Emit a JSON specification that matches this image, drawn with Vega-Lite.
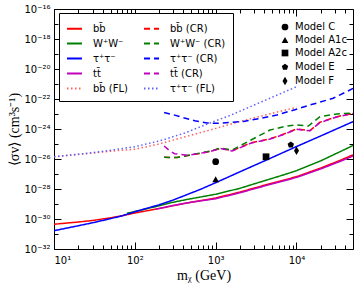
{
  "$schema": "https://vega.github.io/schema/vega-lite/v6.json",
  "autosize": {"type": "none"},
  "width": 299,
  "height": 240,
  "padding": {"left": 54, "top": 9, "right": 4, "bottom": 42},
  "background": "white",
  "datasets": {
    "lines": [
      {"series": "bb\u0304", "m": 10, "sv": 4.47e-31},
      {"series": "bb\u0304", "m": 20, "sv": 6.31e-31},
      {"series": "bb\u0304", "m": 30, "sv": 7.94e-31},
      {"series": "bb\u0304", "m": 50, "sv": 1.2e-30},
      {"series": "bb\u0304", "m": 70, "sv": 1.66e-30},
      {"series": "bb\u0304", "m": 100, "sv": 2.51e-30},
      {"series": "bb\u0304", "m": 200, "sv": 5.01e-30},
      {"series": "bb\u0304", "m": 400, "sv": 1.07e-29},
      {"series": "bb\u0304", "m": 700, "sv": 1.78e-29},
      {"series": "bb\u0304", "m": 1000, "sv": 2.51e-29},
      {"series": "bb\u0304", "m": 2000, "sv": 6.31e-29},
      {"series": "bb\u0304", "m": 4000, "sv": 1.78e-28},
      {"series": "bb\u0304", "m": 7000, "sv": 3.98e-28},
      {"series": "bb\u0304", "m": 10000, "sv": 6.61e-28},
      {"series": "bb\u0304", "m": 20000, "sv": 2.51e-27},
      {"series": "bb\u0304", "m": 35000, "sv": 8.32e-27},
      {"series": "bb\u0304", "m": 50000, "sv": 1.9e-26},

      {"series": "W\u207aW\u207b", "m": 80, "sv": 2.4e-30},
      {"series": "W\u207aW\u207b", "m": 100, "sv": 3.16e-30},
      {"series": "W\u207aW\u207b", "m": 200, "sv": 7.59e-30},
      {"series": "W\u207aW\u207b", "m": 270, "sv": 1.175e-29},
      {"series": "W\u207aW\u207b", "m": 440, "sv": 2.0e-29},
      {"series": "W\u207aW\u207b", "m": 1000, "sv": 4.47e-29},
      {"series": "W\u207aW\u207b", "m": 2000, "sv": 1.12e-28},
      {"series": "W\u207aW\u207b", "m": 4000, "sv": 3.55e-28},
      {"series": "W\u207aW\u207b", "m": 7000, "sv": 8.91e-28},
      {"series": "W\u207aW\u207b", "m": 10000, "sv": 1.66e-27},
      {"series": "W\u207aW\u207b", "m": 20000, "sv": 7.59e-27},
      {"series": "W\u207aW\u207b", "m": 35000, "sv": 3.16e-26},
      {"series": "W\u207aW\u207b", "m": 50000, "sv": 7.94e-26},

      {"series": "\u03c4\u207a\u03c4\u207b", "m": 10, "sv": 1.66e-31},
      {"series": "\u03c4\u207a\u03c4\u207b", "m": 20, "sv": 3.55e-31},
      {"series": "\u03c4\u207a\u03c4\u207b", "m": 30, "sv": 5.62e-31},
      {"series": "\u03c4\u207a\u03c4\u207b", "m": 50, "sv": 1.05e-30},
      {"series": "\u03c4\u207a\u03c4\u207b", "m": 70, "sv": 1.66e-30},
      {"series": "\u03c4\u207a\u03c4\u207b", "m": 100, "sv": 3.02e-30},
      {"series": "\u03c4\u207a\u03c4\u207b", "m": 200, "sv": 8.91e-30},
      {"series": "\u03c4\u207a\u03c4\u207b", "m": 300, "sv": 1.86e-29},
      {"series": "\u03c4\u207a\u03c4\u207b", "m": 650, "sv": 9.55e-29},
      {"series": "\u03c4\u207a\u03c4\u207b", "m": 1000, "sv": 2.63e-28},
      {"series": "\u03c4\u207a\u03c4\u207b", "m": 2000, "sv": 1.41e-27},
      {"series": "\u03c4\u207a\u03c4\u207b", "m": 4000, "sv": 7.41e-27},
      {"series": "\u03c4\u207a\u03c4\u207b", "m": 10000, "sv": 6.76e-26},
      {"series": "\u03c4\u207a\u03c4\u207b", "m": 20000, "sv": 3.47e-25},
      {"series": "\u03c4\u207a\u03c4\u207b", "m": 50000, "sv": 3.09e-24},

      {"series": "tt\u0304", "m": 180, "sv": 4.47e-30},
      {"series": "tt\u0304", "m": 300, "sv": 7.94e-30},
      {"series": "tt\u0304", "m": 500, "sv": 1.32e-29},
      {"series": "tt\u0304", "m": 1000, "sv": 2.24e-29},
      {"series": "tt\u0304", "m": 2000, "sv": 5.62e-29},
      {"series": "tt\u0304", "m": 4000, "sv": 1.585e-28},
      {"series": "tt\u0304", "m": 7000, "sv": 3.55e-28},
      {"series": "tt\u0304", "m": 10000, "sv": 5.89e-28},
      {"series": "tt\u0304", "m": 20000, "sv": 2.19e-27},
      {"series": "tt\u0304", "m": 35000, "sv": 7.08e-27},
      {"series": "tt\u0304", "m": 50000, "sv": 1.585e-26},

      {"series": "bb\u0304 (FL)", "m": 10, "sv": 1.41e-26},
      {"series": "bb\u0304 (FL)", "m": 20, "sv": 2.0e-26},
      {"series": "bb\u0304 (FL)", "m": 30, "sv": 2.51e-26},
      {"series": "bb\u0304 (FL)", "m": 50, "sv": 3.31e-26},
      {"series": "bb\u0304 (FL)", "m": 100, "sv": 4.47e-26},
      {"series": "bb\u0304 (FL)", "m": 200, "sv": 1.0e-25},
      {"series": "bb\u0304 (FL)", "m": 400, "sv": 2.82e-25},
      {"series": "bb\u0304 (FL)", "m": 850, "sv": 8.51e-25},
      {"series": "bb\u0304 (FL)", "m": 2000, "sv": 3.16e-24},
      {"series": "bb\u0304 (FL)", "m": 5000, "sv": 1.12e-23},
      {"series": "bb\u0304 (FL)", "m": 10000, "sv": 2.82e-23},

      {"series": "bb\u0304 (CR)", "m": 230, "sv": 1.29e-26},
      {"series": "bb\u0304 (CR)", "m": 330, "sv": 1.26e-26},
      {"series": "bb\u0304 (CR)", "m": 450, "sv": 1.7e-26},
      {"series": "bb\u0304 (CR)", "m": 644, "sv": 2.4e-26},
      {"series": "bb\u0304 (CR)", "m": 850, "sv": 3.16e-26},
      {"series": "bb\u0304 (CR)", "m": 1150, "sv": 5.13e-26},
      {"series": "bb\u0304 (CR)", "m": 1600, "sv": 3.55e-26},
      {"series": "bb\u0304 (CR)", "m": 2700, "sv": 1.175e-25},
      {"series": "bb\u0304 (CR)", "m": 4700, "sv": 2.24e-25},
      {"series": "bb\u0304 (CR)", "m": 6500, "sv": 3.98e-25},
      {"series": "bb\u0304 (CR)", "m": 10000, "sv": 1.0e-24},
      {"series": "bb\u0304 (CR)", "m": 14700, "sv": 7.94e-25},
      {"series": "bb\u0304 (CR)", "m": 19500, "sv": 2.82e-24},
      {"series": "bb\u0304 (CR)", "m": 31600, "sv": 6.61e-24},
      {"series": "bb\u0304 (CR)", "m": 50000, "sv": 1.12e-23},

      {"series": "W\u207aW\u207b (CR)", "m": 230, "sv": 1.29e-26},
      {"series": "W\u207aW\u207b (CR)", "m": 330, "sv": 1.26e-26},
      {"series": "W\u207aW\u207b (CR)", "m": 450, "sv": 1.7e-26},
      {"series": "W\u207aW\u207b (CR)", "m": 644, "sv": 2.51e-26},
      {"series": "W\u207aW\u207b (CR)", "m": 850, "sv": 3.39e-26},
      {"series": "W\u207aW\u207b (CR)", "m": 1150, "sv": 5.37e-26},
      {"series": "W\u207aW\u207b (CR)", "m": 1600, "sv": 3.98e-26},
      {"series": "W\u207aW\u207b (CR)", "m": 2700, "sv": 1.78e-25},
      {"series": "W\u207aW\u207b (CR)", "m": 4700, "sv": 8.51e-25},
      {"series": "W\u207aW\u207b (CR)", "m": 7600, "sv": 1.585e-24},
      {"series": "W\u207aW\u207b (CR)", "m": 10000, "sv": 1.86e-24},
      {"series": "W\u207aW\u207b (CR)", "m": 14000, "sv": 1.585e-24},
      {"series": "W\u207aW\u207b (CR)", "m": 19500, "sv": 6.61e-24},
      {"series": "W\u207aW\u207b (CR)", "m": 31600, "sv": 1.0e-23},
      {"series": "W\u207aW\u207b (CR)", "m": 50000, "sv": 1.175e-23},

      {"series": "\u03c4\u207a\u03c4\u207b (CR)", "m": 230, "sv": 1.26e-23},
      {"series": "\u03c4\u207a\u03c4\u207b (CR)", "m": 300, "sv": 8.91e-24},
      {"series": "\u03c4\u207a\u03c4\u207b (CR)", "m": 400, "sv": 5.62e-24},
      {"series": "\u03c4\u207a\u03c4\u207b (CR)", "m": 550, "sv": 3.55e-24},
      {"series": "\u03c4\u207a\u03c4\u207b (CR)", "m": 780, "sv": 2.51e-24},
      {"series": "\u03c4\u207a\u03c4\u207b (CR)", "m": 1100, "sv": 2.4e-24},
      {"series": "\u03c4\u207a\u03c4\u207b (CR)", "m": 2200, "sv": 3.16e-24},
      {"series": "\u03c4\u207a\u03c4\u207b (CR)", "m": 3500, "sv": 5.01e-24},
      {"series": "\u03c4\u207a\u03c4\u207b (CR)", "m": 5700, "sv": 8.51e-24},
      {"series": "\u03c4\u207a\u03c4\u207b (CR)", "m": 10000, "sv": 2.09e-23},
      {"series": "\u03c4\u207a\u03c4\u207b (CR)", "m": 14700, "sv": 3.98e-23},
      {"series": "\u03c4\u207a\u03c4\u207b (CR)", "m": 28400, "sv": 1.12e-22},
      {"series": "\u03c4\u207a\u03c4\u207b (CR)", "m": 50000, "sv": 5.01e-22},

      {"series": "tt\u0304 (CR)", "m": 230, "sv": 7.41e-26},
      {"series": "tt\u0304 (CR)", "m": 270, "sv": 3.55e-26},
      {"series": "tt\u0304 (CR)", "m": 310, "sv": 2.24e-26},
      {"series": "tt\u0304 (CR)", "m": 450, "sv": 1.78e-26},
      {"series": "tt\u0304 (CR)", "m": 644, "sv": 2.4e-26},
      {"series": "tt\u0304 (CR)", "m": 850, "sv": 3.16e-26},
      {"series": "tt\u0304 (CR)", "m": 1150, "sv": 5.01e-26},
      {"series": "tt\u0304 (CR)", "m": 1600, "sv": 3.39e-26},
      {"series": "tt\u0304 (CR)", "m": 2700, "sv": 1.12e-25},
      {"series": "tt\u0304 (CR)", "m": 4700, "sv": 2.14e-25},
      {"series": "tt\u0304 (CR)", "m": 6500, "sv": 3.8e-25},
      {"series": "tt\u0304 (CR)", "m": 10000, "sv": 9.55e-25},
      {"series": "tt\u0304 (CR)", "m": 14700, "sv": 7.59e-25},
      {"series": "tt\u0304 (CR)", "m": 19500, "sv": 2.69e-24},
      {"series": "tt\u0304 (CR)", "m": 31600, "sv": 6.31e-24},
      {"series": "tt\u0304 (CR)", "m": 50000, "sv": 1.07e-23},

      {"series": "\u03c4\u207a\u03c4\u207b (FL)", "m": 10, "sv": 1.41e-26},
      {"series": "\u03c4\u207a\u03c4\u207b (FL)", "m": 20, "sv": 2.09e-26},
      {"series": "\u03c4\u207a\u03c4\u207b (FL)", "m": 30, "sv": 2.63e-26},
      {"series": "\u03c4\u207a\u03c4\u207b (FL)", "m": 50, "sv": 3.8e-26},
      {"series": "\u03c4\u207a\u03c4\u207b (FL)", "m": 100, "sv": 6.61e-26},
      {"series": "\u03c4\u207a\u03c4\u207b (FL)", "m": 200, "sv": 1.585e-25},
      {"series": "\u03c4\u207a\u03c4\u207b (FL)", "m": 400, "sv": 5.01e-25},
      {"series": "\u03c4\u207a\u03c4\u207b (FL)", "m": 850, "sv": 2.51e-24},
      {"series": "\u03c4\u207a\u03c4\u207b (FL)", "m": 1500, "sv": 7.94e-24},
      {"series": "\u03c4\u207a\u03c4\u207b (FL)", "m": 3000, "sv": 3.98e-23},
      {"series": "\u03c4\u207a\u03c4\u207b (FL)", "m": 6000, "sv": 2.0e-22},
      {"series": "\u03c4\u207a\u03c4\u207b (FL)", "m": 10000, "sv": 6.61e-22}
    ],
    "models": [
      {"model": "Model C", "m": 1000, "sv": 6.61e-27},
      {"model": "Model A1c", "m": 1000, "sv": 4.47e-28},
      {"model": "Model A2c", "m": 4200, "sv": 1.41e-26},
      {"model": "Model E", "m": 8500, "sv": 8.91e-26},
      {"model": "Model F", "m": 10000, "sv": 3.55e-26}
    ]
  },
  "layer": [
    {
      "data": {"name": "lines"},
      "mark": {"type": "line", "strokeWidth": 1.5, "clip": true},
      "encoding": {
        "x": {
          "field": "m", "type": "quantitative",
          "scale": {"type": "log", "domain": [10, 50000], "nice": false},
          "axis": {
            "orient": "bottom", "values": [10, 100, 1000, 10000],
            "labelExpr": "datum.value < 50 ? '10\u00b9' : datum.value < 500 ? '10\u00b2' : datum.value < 5000 ? '10\u00b3' : '10\u2074'",
            "tickSize": -7, "labelPadding": 13,
            "title": "m\u1d6a (GeV)", "titleFont": "Liberation Serif", "titleFontSize": 14, "titleFontWeight": "normal", "titlePadding": 3
          }
        },
        "y": {
          "field": "sv", "type": "quantitative",
          "scale": {"type": "log", "domain": [1e-32, 1e-16], "nice": false},
          "axis": {
            "orient": "left",
            "values": [1e-32, 1e-30, 1e-28, 1e-26, 1e-24, 1e-22, 1e-20, 1e-18, 1e-16],
            "labelExpr": "datum.value < 1e-31 ? '10\u207b\u00b3\u00b2' : datum.value < 1e-29 ? '10\u207b\u00b3\u2070' : datum.value < 1e-27 ? '10\u207b\u00b2\u2078' : datum.value < 1e-25 ? '10\u207b\u00b2\u2076' : datum.value < 1e-23 ? '10\u207b\u00b2\u2074' : datum.value < 1e-21 ? '10\u207b\u00b2\u00b2' : datum.value < 1e-19 ? '10\u207b\u00b2\u2070' : datum.value < 1e-17 ? '10\u207b\u00b9\u2078' : '10\u207b\u00b9\u2076'",
            "tickSize": -7, "labelPadding": 11,
            "title": "\u27e8\u03c3v\u27e9 (cm\u00b3s\u207b\u00b9)", "titleFont": "Liberation Serif", "titleFontSize": 14, "titleFontWeight": "normal", "titlePadding": 2
          }
        },
        "color": {
          "field": "series", "type": "nominal",
          "scale": {
            "domain": ["bb\u0304", "W\u207aW\u207b", "\u03c4\u207a\u03c4\u207b", "tt\u0304", "bb\u0304 (FL)", "bb\u0304 (CR)", "W\u207aW\u207b (CR)", "\u03c4\u207a\u03c4\u207b (CR)", "tt\u0304 (CR)", "\u03c4\u207a\u03c4\u207b (FL)"],
            "range": ["#ff0000", "#008000", "#0000ff", "#bf00bf", "#ff6060", "#ff0000", "#008000", "#0000ff", "#bf00bf", "#6060ff"]
          },
          "legend": {
            "orient": "none", "legendX": 5, "legendY": 4, "title": null,
            "columns": 2, "columnPadding": 12, "rowPadding": 1, "padding": 7,
            "strokeColor": "black", "fillColor": "white", "cornerRadius": 0,
            "symbolType": "stroke", "symbolSize": 225, "symbolStrokeWidth": 2,
            "labelOffset": 10, "labelFontSize": 10, "labelFont": "DejaVu Sans", "labelColor": "black"
          }
        },
        "strokeDash": {
          "field": "series", "type": "nominal",
          "scale": {
            "domain": ["bb\u0304", "W\u207aW\u207b", "\u03c4\u207a\u03c4\u207b", "tt\u0304", "bb\u0304 (FL)", "bb\u0304 (CR)", "W\u207aW\u207b (CR)", "\u03c4\u207a\u03c4\u207b (CR)", "tt\u0304 (CR)", "\u03c4\u207a\u03c4\u207b (FL)"],
            "range": [[1, 0], [1, 0], [1, 0], [1, 0], [1.5, 2.5], [6, 4], [6, 4], [6, 4], [6, 4], [1.5, 2.5]]
          }
        }
      }
    },
    {
      "data": {"name": "models"},
      "mark": {"type": "point", "filled": true, "size": 45, "color": "black", "opacity": 1},
      "encoding": {
        "x": {"field": "m", "type": "quantitative",
          "axis": {"orient": "top", "values": [10, 100, 1000, 10000], "labels": false, "tickSize": -7, "title": null}},
        "y": {"field": "sv", "type": "quantitative",
          "axis": {"orient": "right", "values": [1e-32, 1e-30, 1e-28, 1e-26, 1e-24, 1e-22, 1e-20, 1e-18, 1e-16], "labels": false, "tickSize": -7, "title": null}},
        "shape": {
          "field": "model", "type": "nominal",
          "scale": {
            "domain": ["Model C", "Model A1c", "Model A2c", "Model E", "Model F"],
            "range": ["circle", "triangle-up", "square", "M0,-1L0.951,-0.309L0.588,0.809L-0.588,0.809L-0.951,-0.309Z", "M0,-1.3L0.75,0L0,1.3L-0.75,0Z"]
          },
          "legend": {
            "orient": "none", "legendX": 226, "legendY": 13, "title": null, "padding": 0,
            "symbolFillColor": "black", "symbolStrokeColor": "black", "symbolSize": 45,
            "rowPadding": 0, "labelOffset": 5, "labelFontSize": 10, "labelFont": "DejaVu Sans", "labelColor": "black"
          }
        }
      }
    },
    {
      "data": {"name": "models"},
      "mark": {"type": "point", "opacity": 0},
      "encoding": {
        "x": {"field": "m", "type": "quantitative",
          "axis": {"orient": "bottom", "values": [20, 30, 40, 50, 60, 70, 80, 90, 200, 300, 400, 500, 600, 700, 800, 900, 2000, 3000, 4000, 5000, 6000, 7000, 8000, 9000, 20000, 30000, 40000], "labels": false, "tickSize": -4, "title": null}},
        "y": {"field": "sv", "type": "quantitative",
          "axis": {"orient": "left", "values": [1e-31, 1e-29, 1e-27, 1e-25, 1e-23, 1e-21, 1e-19, 1e-17], "labels": false, "tickSize": -4, "title": null}}
      }
    },
    {
      "data": {"name": "models"},
      "mark": {"type": "point", "opacity": 0},
      "encoding": {
        "x": {"field": "m", "type": "quantitative",
          "axis": {"orient": "top", "values": [20, 30, 40, 50, 60, 70, 80, 90, 200, 300, 400, 500, 600, 700, 800, 900, 2000, 3000, 4000, 5000, 6000, 7000, 8000, 9000, 20000, 30000, 40000], "labels": false, "tickSize": -4, "title": null}},
        "y": {"field": "sv", "type": "quantitative",
          "axis": {"orient": "right", "values": [1e-31, 1e-29, 1e-27, 1e-25, 1e-23, 1e-21, 1e-19, 1e-17], "labels": false, "tickSize": -4, "title": null}}
      }
    }
  ],
  "resolve": {"axis": {"x": "independent", "y": "independent"}},
  "config": {
    "view": {"stroke": "black", "strokeWidth": 1},
    "axis": {"grid": false, "domain": false, "tickColor": "black", "labelColor": "black", "labelFont": "DejaVu Sans", "labelFontSize": 10, "titleColor": "black"},
    "font": "DejaVu Sans"
  }
}
